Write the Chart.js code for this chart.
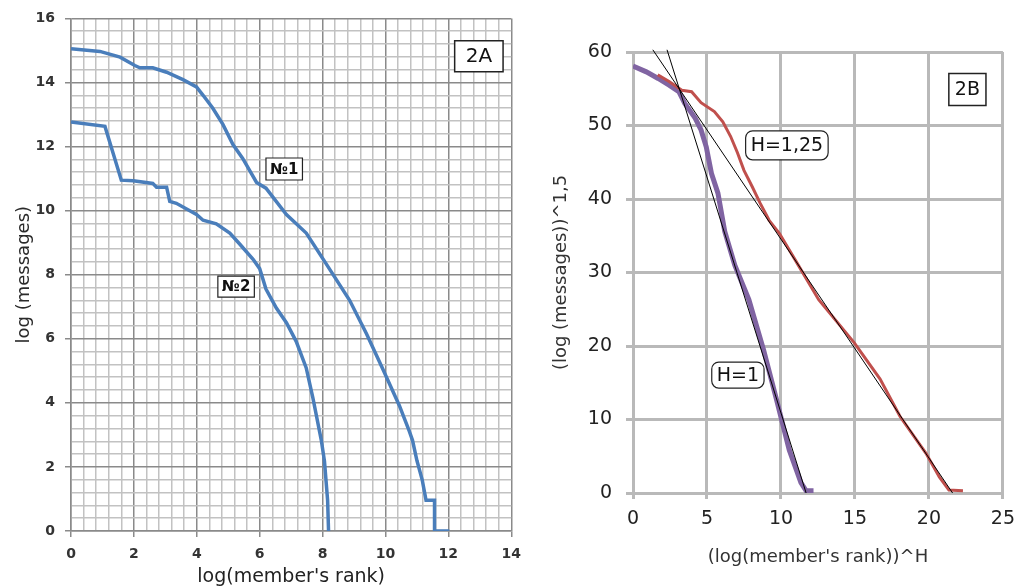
<!DOCTYPE html>
<html>
<head>
<meta charset="utf-8">
<title>2A / 2B</title>
<style>
  html, body { margin: 0; padding: 0; background: #fff; }
  .wrap { position: relative; width: 1024px; height: 588px; overflow: hidden; }
  #boxA { position: absolute; left: 0; top: 0; width: 530px; height: 588px; }
  #boxB { position: absolute; left: 520px; top: 0; width: 504px; height: 588px; }
</style>
</head>
<body>
<div class="wrap">
  <div id="boxA"><canvas id="chartA"></canvas></div>
  <div id="boxB"><canvas id="chartB"></canvas></div>
</div>

<script src="https://cdn.jsdelivr.net/npm/chart.js"></script>
<script>
// --- 2A: log(messages) vs log(member's rank) ---
const rankA1 = [0, 0.92, 1.56, 2.03, 2.19, 2.6, 3.04, 3.56, 3.99, 4.2, 4.5, 4.83, 5.15, 5.46, 5.9, 6.2, 6.85, 7.48, 8.1, 8.86, 9.4, 9.9, 10.44, 10.76, 10.86, 11.0, 11.17, 11.29, 11.56, 11.56, 12.03];
const msgA1  = [15.05, 14.97, 14.79, 14.53, 14.46, 14.46, 14.32, 14.09, 13.86, 13.6, 13.21, 12.69, 12.06, 11.63, 10.88, 10.7, 9.88, 9.3, 8.36, 7.2, 6.15, 5.09, 3.92, 3.11, 2.83, 2.2, 1.59, 0.96, 0.96, 0, 0];
const rankA2 = [0, 1.08, 1.6, 1.98, 2.6, 2.72, 3.04, 3.14, 3.35, 3.99, 4.2, 4.62, 5.05, 5.37, 5.79, 6.0, 6.2, 6.53, 6.85, 7.16, 7.48, 7.69, 7.96, 8.06, 8.16, 8.19];
const msgA2  = [12.77, 12.63, 10.95, 10.93, 10.85, 10.73, 10.73, 10.29, 10.23, 9.88, 9.7, 9.59, 9.3, 8.95, 8.48, 8.19, 7.55, 6.96, 6.5, 5.92, 5.09, 4.16, 2.83, 2.18, 0.96, 0];
const xTicksA = [0, 2, 4, 6, 8, 10, 12, 14];
const yTicksA = [0, 2, 4, 6, 8, 10, 12, 14, 16];
const minorStepA = 0.4;

// --- 2B: (log messages)^1,5 vs (log rank)^H ---
const rankH1   = [0, 0.9, 1.7, 2.44, 3.1, 3.5, 4.2, 4.6, 4.95, 5.3, 5.74, 6.2, 6.88, 7.83, 8.82, 9.7, 10.56, 11.35, 11.7, 12.2];
const msgH1    = [58.1, 57.3, 56.4, 55.5, 54.6, 53.0, 51.0, 49.4, 47.1, 43.5, 40.8, 35.6, 31.0, 26.3, 19.5, 12.7, 5.85, 1.4, 0.3, 0.3];
const rankH125 = [1.67, 2.44, 3.3, 3.96, 4.6, 5.5, 6.07, 6.6, 7.06, 7.5, 8.05, 8.6, 9.2, 9.9, 11.2, 12.55, 14.97, 16.7, 18.05, 19.8, 20.7, 21.35, 22.3];
const msgH125  = [56.9, 56.0, 54.8, 54.6, 53.1, 51.9, 50.5, 48.5, 46.3, 43.9, 41.7, 39.4, 37.1, 35.3, 30.9, 26.3, 20.4, 15.5, 10.4, 5.4, 2.2, 0.4, 0.3];
const fitH1Rank   = [2.3, 11.7];
const fitH1Msg    = [60.3, 0];
const fitH125Rank = [1.34, 21.6];
const fitH125Msg  = [60.3, 0];
const xTicksB = [0, 5, 10, 15, 20, 25];
const yTicksB = [0, 10, 20, 30, 40, 50, 60];

Chart.defaults.font.family = "'DejaVu Sans', Verdana, sans-serif";
Chart.defaults.animation = false;

const pts = (xs, ys) => xs.map((x, i) => ({ x, y: ys[i] }));
const isMajor = (v, list) => list.some(t => Math.abs(t - v) < 1e-6);
const range = (max, step) => {
  const out = [];
  for (let i = 0; i * step <= max + 1e-9; i++) out.push(+(i * step).toFixed(4));
  return out;
};

// simple text boxes placed at data coordinates
const labelBoxes = {
  id: 'labelBoxes',
  afterDatasetsDraw(chart, args, opts) {
    const { ctx, scales } = chart;
    (opts.items || []).forEach(it => {
      const cx = scales.x.getPixelForValue(it.x);
      const cy = scales.y.getPixelForValue(it.y);
      ctx.save();
      ctx.font = it.font;
      const w = ctx.measureText(it.text).width + it.padX * 2;
      const h = it.h;
      const x0 = cx - w / 2, y0 = cy - h / 2;
      ctx.beginPath();
      if (it.radius) ctx.roundRect(x0, y0, w, h, it.radius);
      else ctx.rect(x0, y0, w, h);
      ctx.fillStyle = '#fff';
      ctx.fill();
      ctx.lineWidth = it.border || 1.2;
      ctx.strokeStyle = '#222';
      ctx.stroke();
      ctx.fillStyle = '#111';
      ctx.textAlign = 'center';
      ctx.textBaseline = 'middle';
      ctx.fillText(it.text, cx, cy + 1);
      ctx.restore();
    });
  }
};

new Chart(document.getElementById('chartA'), {
  type: 'scatter',
  data: {
    datasets: [
      { data: pts(rankA1, msgA1), showLine: true, borderColor: '#4a7ebb', borderWidth: 3.5, pointRadius: 0, tension: 0 },
      { data: pts(rankA2, msgA2), showLine: true, borderColor: '#4a7ebb', borderWidth: 3.5, pointRadius: 0, tension: 0 }
    ]
  },
  options: {
    responsive: true,
    maintainAspectRatio: false,
    layout: { padding: { left: 0, top: 17, right: 18, bottom: 0 } },
    plugins: {
      legend: { display: false },
      tooltip: { enabled: false },
      labelBoxes: {
        items: [
          { text: '2A', x: 12.97, y: 14.82, font: '20px "DejaVu Sans"', padX: 11, h: 31, border: 1.5 },
          { text: '№1', x: 6.78, y: 11.3, font: 'bold 15px "DejaVu Sans"', padX: 4, h: 22 },
          { text: '№2', x: 5.25, y: 7.63, font: 'bold 15px "DejaVu Sans"', padX: 4, h: 21 }
        ]
      }
    },
    scales: {
      x: {
        type: 'linear', min: 0, max: 14,
        afterBuildTicks: s => { s.ticks = range(14, minorStepA).map(v => ({ value: v })); },
        afterFit: s => { s.height = 57; },
        ticks: {
          autoSkip: false, maxRotation: 0, minRotation: 0, padding: 9,
          color: '#333', font: { size: 14, weight: 'bold' },
          callback: v => isMajor(v, xTicksA) ? String(v) : ''
        },
        grid: {
          tickLength: 6,
          color: c => isMajor(c.tick.value, xTicksA) ? '#8a8a8a' : '#c2c2c2',
          tickColor: c => isMajor(c.tick.value, xTicksA) ? '#8a8a8a' : 'rgba(0,0,0,0)',
          lineWidth: 1.5
        },
        border: { color: '#8a8a8a', width: 1.5 },
        title: { display: true, text: "log(member's rank)", color: '#222', font: { size: 19 }, padding: { top: 0, bottom: 0 } }
      },
      y: {
        type: 'linear', min: 0, max: 16,
        afterBuildTicks: s => { s.ticks = range(16, minorStepA).map(v => ({ value: v })); },
        afterFit: s => { s.width = 71; },
        ticks: {
          autoSkip: false, padding: 10,
          color: '#333', font: { size: 14, weight: 'bold' },
          callback: v => isMajor(v, yTicksA) ? String(v) : ''
        },
        grid: {
          tickLength: 6,
          color: c => isMajor(c.tick.value, yTicksA) ? '#8a8a8a' : '#c2c2c2',
          tickColor: c => isMajor(c.tick.value, yTicksA) ? '#8a8a8a' : 'rgba(0,0,0,0)',
          lineWidth: 1.5
        },
        border: { color: '#8a8a8a', width: 1.5 },
        title: { display: true, text: 'log (messages)', color: '#2a2a2a', font: { size: 18 }, padding: { top: 14, bottom: 0 } }
      }
    }
  },
  plugins: [labelBoxes]
});

new Chart(document.getElementById('chartB'), {
  type: 'scatter',
  data: {
    datasets: [
      { data: pts(fitH1Rank, fitH1Msg), showLine: true, borderColor: '#000', borderWidth: 1, pointRadius: 0, clip: 5, order: 0 },
      { data: pts(fitH125Rank, fitH125Msg), showLine: true, borderColor: '#000', borderWidth: 1, pointRadius: 0, clip: 5, order: 0 },
      { data: pts(rankH125, msgH125), showLine: true, borderColor: '#c0504d', borderWidth: 3, pointRadius: 0, order: 1 },
      { data: pts(rankH1, msgH1), showLine: true, borderColor: '#8064a2', borderWidth: 5, pointRadius: 0, order: 2 }
    ]
  },
  options: {
    responsive: true,
    maintainAspectRatio: false,
    layout: { padding: { left: 0, top: 52, right: 12, bottom: 0 } },
    plugins: {
      legend: { display: false },
      tooltip: { enabled: false },
      labelBoxes: {
        items: [
          { text: '2B', x: 22.6, y: 54.9, font: '19px "DejaVu Sans"', padX: 6, h: 32, border: 1.5 },
          { text: 'H=1,25', x: 10.4, y: 47.3, font: '19px "DejaVu Sans"', padX: 5, h: 29, radius: 7 },
          { text: 'H=1', x: 7.09, y: 16.05, font: '19px "DejaVu Sans"', padX: 5, h: 26, radius: 7 }
        ]
      }
    },
    scales: {
      x: {
        type: 'linear', min: 0, max: 25,
        afterBuildTicks: s => { s.ticks = xTicksB.map(v => ({ value: v })); },
        afterFit: s => { s.height = 95; },
        ticks: { autoSkip: false, maxRotation: 0, padding: 9, color: '#222', font: { size: 19 } },
        grid: { tickLength: 6, color: '#b9b9b9', tickColor: '#b9b9b9', lineWidth: 3 },
        border: { color: '#b9b9b9', width: 3 },
        title: { display: true, text: "(log(member's rank))^H", color: '#333', font: { size: 18 }, padding: { top: 0, bottom: 20 } }
      },
      y: {
        type: 'linear', min: 0, max: 60,
        afterBuildTicks: s => { s.ticks = yTicksB.map(v => ({ value: v })); },
        afterFit: s => { s.width = 113; },
        ticks: { autoSkip: false, padding: 14, color: '#222', font: { size: 19 } },
        grid: { tickLength: 7, color: '#b9b9b9', tickColor: '#b9b9b9', lineWidth: 3 },
        border: { color: '#b9b9b9', width: 3 },
        title: { display: true, text: '(log (messages))^1,5', color: '#333', font: { size: 18 }, padding: { top: 31, bottom: 0 } }
      }
    }
  },
  plugins: [labelBoxes]
});
</script>
</body>
</html>
